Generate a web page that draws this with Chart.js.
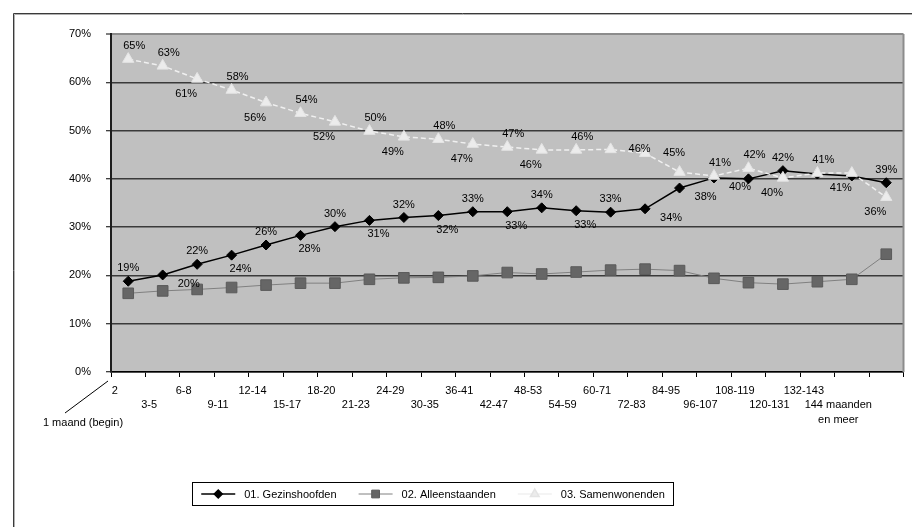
<!DOCTYPE html>
<html>
<head>
<meta charset="utf-8">
<script src="https://cdn.jsdelivr.net/npm/chart.js@4.4.1/dist/chart.umd.min.js"></script>
<style>
  html, body { margin: 0; padding: 0; background: #ffffff; }
  #wrap { width: 912px; height: 527px; position: relative; }
</style>
</head>
<body>
<div id="wrap"><canvas id="c"></canvas></div>
<script>
// ---------- data ----------
const categories = [
  "1 maand (begin)", "2", "3-5", "6-8", "9-11", "12-14", "15-17", "18-20", "21-23",
  "24-29", "30-35", "36-41", "42-47", "48-53", "54-59", "60-71", "72-83", "84-95",
  "96-107", "108-119", "120-131", "132-143", "144 maanden en meer"
];
const seriesNames = ["01. Gezinshoofden", "02. Alleenstaanden", "03. Samenwonenden"];
const gezinshoofden = [18.8, 20.1, 22.3, 24.2, 26.3, 28.3, 30.1, 31.4, 32.0, 32.4, 33.2, 33.2,
  34.0, 33.4, 33.1, 33.8, 38.1, 40.2, 40.0, 41.7, 41.0, 40.6, 39.2];
const alleenstaanden = [16.3, 16.8, 17.1, 17.5, 18.0, 18.4, 18.4, 19.2, 19.5, 19.6, 19.9, 20.6,
  20.3, 20.7, 21.1, 21.3, 21.0, 19.4, 18.5, 18.2, 18.7, 19.2, 24.4];
const samenwonenden = [64.8, 63.4, 60.7, 58.4, 55.8, 53.6, 51.8, 49.9, 48.7, 48.2, 47.2, 46.6,
  46.0, 46.0, 46.1, 45.3, 41.4, 40.6, 42.2, 40.2, 41.2, 41.2, 36.2];
const yMin = 0, yMax = 70, yStep = 10;

// ---------- styling ----------
const FONT = '"Liberation Sans", Arial, Helvetica, sans-serif';

// label placement per point: a = above, b = below, r = right, null = none
const gezinLabelPos = ['a','r','a','b','a','b','a','b','a','b','a','b','a','b','a','r','r','r',null,'a',null,null,'a'];
const samenLabelPos = ['a','a','b','a','b','a','b','a','b','a','b','a','b','a','r','r',null,'a','a','b','a','b','b'];

const bgPlugin = {
  id: 'bg',
  beforeDraw(chart) {
    const { ctx, chartArea: a, width, height } = chart;
    ctx.save();
    ctx.fillStyle = '#ffffff';
    ctx.fillRect(0, 0, width, height);
    // outer frame
    ctx.strokeStyle = '#3a3a3a';
    ctx.lineWidth = 1;
    ctx.beginPath();
    ctx.moveTo(13.5, height); ctx.lineTo(13.5, 13.5); ctx.lineTo(width, 13.5);
    ctx.stroke();
    ctx.strokeStyle = '#b0b0b0';
    ctx.beginPath();
    ctx.moveTo(14.5, height); ctx.lineTo(14.5, 14.5); ctx.lineTo(width, 14.5);
    ctx.stroke();
    // plot area
    ctx.fillStyle = '#c0c0c0';
    ctx.fillRect(a.left, a.top, a.right - a.left, a.bottom - a.top);
    ctx.restore();
  },
  beforeDatasetsDraw(chart) {
    const { ctx, chartArea: a } = chart;
    ctx.save();
    ctx.strokeStyle = '#8c8c8c';
    ctx.lineWidth = 2;
    ctx.beginPath();
    ctx.moveTo(a.right, a.top); ctx.lineTo(a.right, a.bottom);
    ctx.stroke();
    ctx.restore();
  }
};

const labelPlugin = {
  id: 'pctLabels',
  afterDatasetsDraw(chart) {
    const ctx = chart.ctx;
    ctx.save();
    ctx.font = '11px ' + FONT;
    ctx.fillStyle = '#000';
    ctx.textAlign = 'center';
    ctx.textBaseline = 'middle';
    chart.data.datasets.forEach((ds, di) => {
      if (!ds.labelPos) return;
      const meta = chart.getDatasetMeta(di);
      meta.data.forEach((pt, i) => {
        const p = ds.labelPos[i];
        if (!p) return;
        const off = ds.labelOffsets[p];
        ctx.fillText(Math.round(ds.data[i]) + '%', pt.x + off[0], pt.y + off[1]);
      });
    });
    ctx.restore();
  }
};

const annotPlugin = {
  id: 'firstCat',
  afterDraw(chart) {
    const { ctx, chartArea: a } = chart;
    ctx.save();
    ctx.strokeStyle = '#000';
    ctx.lineWidth = 1;
    ctx.beginPath();
    ctx.moveTo(a.left - 3, a.bottom + 9);
    ctx.lineTo(a.left - 46, a.bottom + 41);
    ctx.stroke();
    ctx.font = '11px ' + FONT;
    ctx.fillStyle = '#000';
    ctx.textAlign = 'center';
    ctx.textBaseline = 'middle';
    ctx.fillText(chart.data.labels[0], a.left - 28, a.bottom + 51);
    ctx.restore();
  }
};

const legendPlugin = {
  id: 'boxLegend',
  afterDraw(chart) {
    const ctx = chart.ctx;
    const box = { left: 192.5, top: 482.5, right: 673.5, bottom: 505.5 };
    const cy = (box.top + box.bottom) / 2;
    ctx.save();
    ctx.fillStyle = '#fff';
    ctx.fillRect(box.left, box.top, box.right - box.left, box.bottom - box.top);
    ctx.strokeStyle = '#000';
    ctx.lineWidth = 1;
    ctx.strokeRect(box.left, box.top, box.right - box.left, box.bottom - box.top);
    ctx.font = '11px ' + FONT;
    ctx.textBaseline = 'middle';
    ctx.textAlign = 'left';
    const sample = 34, gap = 9, spacing = 22;
    const items = chart.data.datasets.map(ds => ({ ds, w: sample + gap + ctx.measureText(ds.label).width }));
    const total = items.reduce((s, it) => s + it.w, 0) + spacing * (items.length - 1);
    let x = (box.left + box.right) / 2 - total / 2;
    items.forEach(({ ds }) => {
      ctx.strokeStyle = ds.borderColor;
      ctx.lineWidth = ds.borderWidth;
      ctx.setLineDash([]);
      ctx.beginPath();
      ctx.moveTo(x, cy); ctx.lineTo(x + sample, cy);
      ctx.stroke();
      ctx.fillStyle = ds.pointBackgroundColor;
      ctx.strokeStyle = ds.pointBorderColor;
      Chart.helpers.drawPoint(ctx, { pointStyle: ds.pointStyle, radius: ds.legendRadius, rotation: 0, borderWidth: 1 }, x + sample / 2, cy);
      ctx.fillStyle = '#000';
      ctx.fillText(ds.label, x + sample + gap, cy + 0.5);
      x += sample + gap + ctx.measureText(ds.label).width + spacing;
    });
    ctx.restore();
  }
};

new Chart(document.getElementById('c'), {
  type: 'line',
  data: {
    labels: categories,
    datasets: [
      {
        label: seriesNames[0], data: gezinshoofden, order: 1,
        borderColor: '#000000', borderWidth: 1.5, tension: 0,
        pointStyle: 'rectRot', pointRadius: 5, legendRadius: 4,
        pointBackgroundColor: '#000000', pointBorderColor: '#000000', pointBorderWidth: 1,
        labelPos: gezinLabelPos,
        labelOffsets: { a: [0, -13], b: [9, 14], r: [26, 9] }
      },
      {
        label: seriesNames[1], data: alleenstaanden, order: 2,
        borderColor: '#808080', borderWidth: 1, tension: 0,
        pointStyle: 'rect', pointRadius: 7.5, legendRadius: 5.5,
        pointBackgroundColor: '#666666', pointBorderColor: '#5a5a5a', pointBorderWidth: 1
      },
      {
        label: seriesNames[2], data: samenwonenden, order: 0,
        borderColor: '#f0f0f0', borderWidth: 1.5, borderDash: [5, 3], tension: 0,
        pointStyle: 'triangle', pointRadius: 6.5, legendRadius: 5,
        pointBackgroundColor: '#ececec', pointBorderColor: '#e4e4e4', pointBorderWidth: 1,
        labelPos: samenLabelPos,
        labelOffsets: { a: [6, -13], b: [-11, 15], r: [29, 0] }
      }
    ]
  },
  options: {
    responsive: true,
    maintainAspectRatio: false,
    devicePixelRatio: 1,
    animation: false,
    layout: { padding: { left: 0, top: 34, right: 7, bottom: 0 } },
    plugins: { legend: { display: false }, tooltip: { enabled: false } },
    scales: {
      x: {
        type: 'category',
        offset: true,
        grid: { offset: true, drawOnChartArea: false, drawTicks: true, tickLength: 5, color: '#000', lineWidth: 1 },
        border: { display: true, color: '#000', width: 1.5 },
        ticks: {
          autoSkip: false, maxRotation: 0, minRotation: 0, padding: 7, labelOffset: -48,
          color: '#000', font: { family: FONT, size: 11, lineHeight: 1.3 },
          callback(value, index) {
            if (index === 0) return '';
            const lab = this.getLabelForValue(value);
            const m = lab.match(/^(.*?)\s(en .*)$/);
            const lines = m ? [m[1], m[2]] : [lab];
            return index % 2 === 1 ? lines : [''].concat(lines);
          }
        },
        afterFit(s) { s.height = 155; s.paddingLeft = 0; s.paddingRight = 0; }
      },
      y: {
        min: yMin, max: yMax,
        ticks: { stepSize: yStep, padding: 15, color: '#000', font: { family: FONT, size: 11 }, callback: v => v + '%' },
        grid: {
          color: c => (c.tick && c.tick.value === yMax) ? '#8c8c8c' : '#3a3a3a',
          lineWidth: c => (c.tick && c.tick.value === yMax) ? 2 : 1.5,
          tickLength: 5, tickColor: '#000', tickWidth: 1
        },
        border: { display: true, color: '#1e1e1e', width: 2 },
        afterFit(s) { s.width = 111; }
      }
    }
  },
  plugins: [bgPlugin, labelPlugin, annotPlugin, legendPlugin]
});
</script>
</body>
</html>
